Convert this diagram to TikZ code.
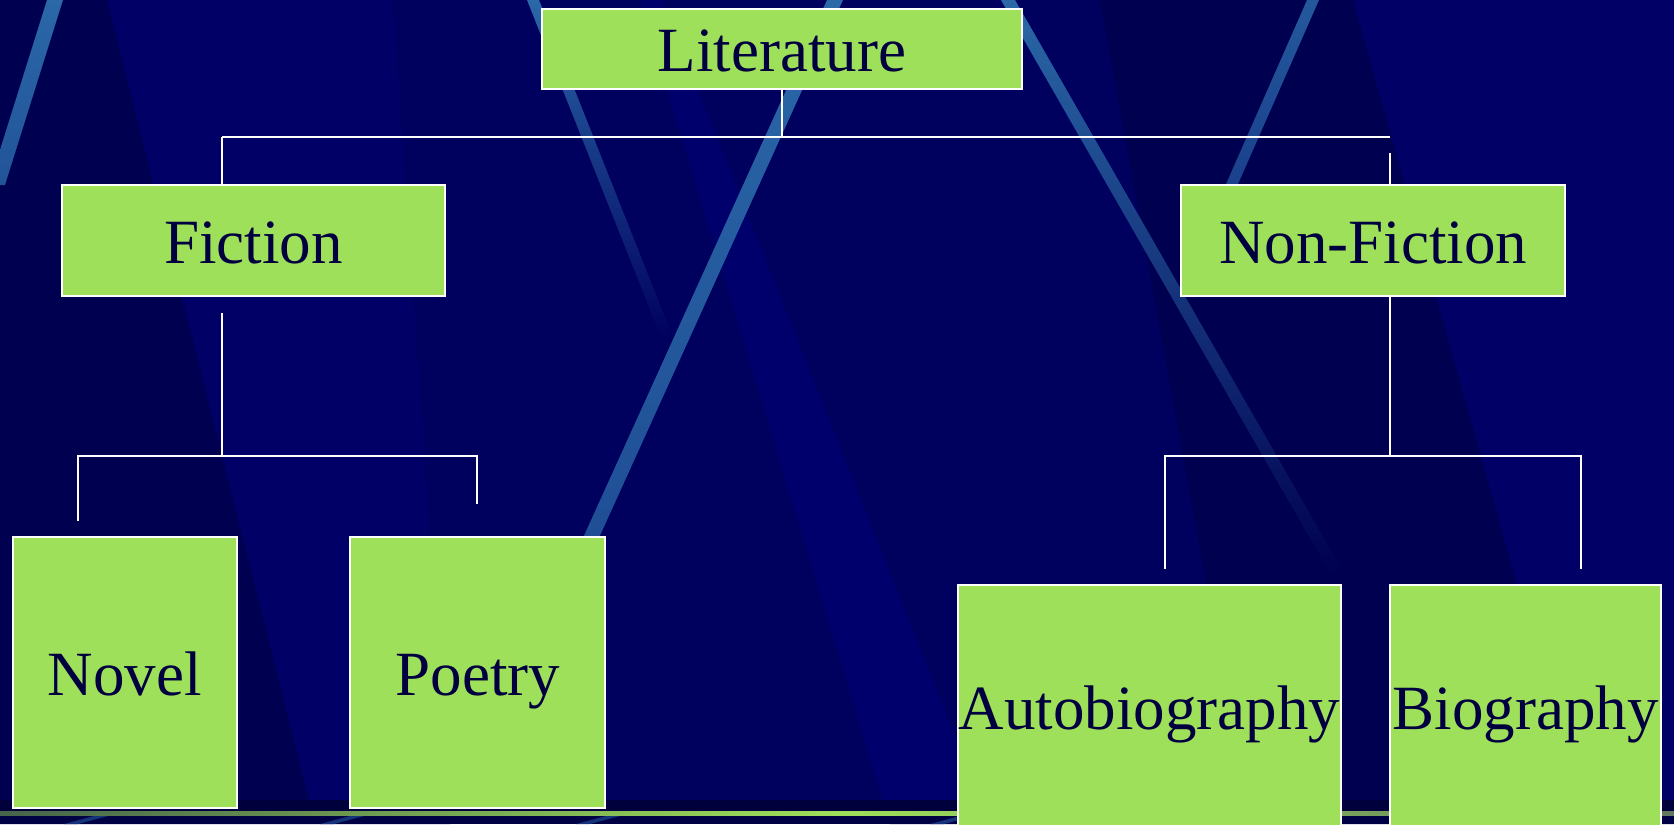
\documentclass[tikz,border=0pt]{standalone}
\usepackage{fontspec}
\setmainfont{Liberation Serif}
\definecolor{navy}{RGB}{0,0,94}
\definecolor{navydark}{RGB}{0,0,80}
\definecolor{navylight}{RGB}{0,0,102}
\definecolor{navyband}{RGB}{0,0,108}
\definecolor{streak}{RGB}{42,104,168}
\definecolor{boxgreen}{RGB}{159,224,90}
\definecolor{inktext}{RGB}{0,0,64}
\definecolor{linedark}{RGB}{70,100,75}
\definecolor{linegray}{RGB}{95,120,95}
\begin{document}
\begin{tikzpicture}[x=0.5pt,y=-0.5pt,
    cat/.style={draw=white,line width=1pt,fill=boxgreen,text=inktext,inner sep=0pt,
      font=\fontsize{31.5}{36}\selectfont,text height=23pt,text depth=0pt},
    link/.style={draw=white,line width=0.9pt}]
  % backdrop
  \fill[navy](0,0)rectangle(1674,824);
  \useasboundingbox(0,0)rectangle(1674,824);
  \fill[navydark](0,0)--(107,0)--(315,824)--(0,824)--cycle;
  \fill[navylight](107,0)--(393,0)--(450,824)--(315,824)--cycle;
  \fill[navyband](640,0)--(662,0)--(990,824)--(890,824)--cycle;
  \fill[navydark](1100,0)--(1353,0)--(1584,824)--(1250,824)--cycle;
  \fill[navylight](1353,0)--(1674,0)--(1674,824)--(1584,824)--cycle;
  % streaks
  \shade[top color=streak,bottom color=streak!80!navy](47,0)--(63,0)--(5,185)--(-11,185)--cycle;
  \shade[top color=streak,bottom color=navy](527,0)--(539,0)--(674,340)--(662,340)--cycle;
  \shade[top color=streak,bottom color=streak!75!navy](827,0)--(843,0)--(598,540)--(582,540)--cycle;
  \shade[top color=streak,bottom color=navydark](1001,0)--(1015,0)--(1345,575)--(1331,575)--cycle;
  \shade[top color=streak!85!navy,bottom color=streak!60!navy](1307,0)--(1319,0)--(1231,200)--(1219,200)--cycle;
  % bottom strip
  \fill[navydark!75!black](0,800)rectangle(1674,811);
  \shade[left color=linedark,right color=linegray,middle color=boxgreen](0,811)rectangle(1674,816);
  \fill[navydark!85!black](0,816)rectangle(1674,824);
  \foreach \x in {64,320,576,930}
    \fill[streak!50!navydark](\x,824)--(\x+14,824)--(\x+44,816)--(\x+30,816)--cycle;
  % boxes
  \node[cat,minimum width=239.7pt,minimum height=40pt](lit)at(782,48.6){Literature};
  \node[cat,minimum width=191.7pt,minimum height=55.5pt](fic)at(253.5,240.2){Fiction};
  \node[cat,minimum width=192.2pt,minimum height=55.5pt](nonfic)at(1373,240.2){Non-Fiction};
  \node[cat,minimum width=112.1pt,minimum height=135.6pt](novel)at(124.9,672.6){Novel};
  \node[cat,minimum width=127.6pt,minimum height=135.6pt](poetry)at(477.8,672.6){Poetry};
  \node[cat,minimum width=191.7pt,minimum height=121.5pt](auto)at(1149.3,706.5){Autobiography};
  \node[cat,minimum width=135.6pt,minimum height=121.5pt](bio)at(1525.6,706.5){Biography};
  % connectors
  \coordinate(barL)at(222,136.7);
  \coordinate(barR)at(1390,136.7);
  \coordinate(nfTop)at(1390,152.7);
  \coordinate(fStem)at(222,312.8);
  \coordinate(fBar)at(222,455.9);
  \coordinate(fL)at(77.9,455.9);
  \coordinate(fR)at(477.2,455.9);
  \coordinate(nBar)at(1390,455.9);
  \coordinate(nL)at(1164.8,455.9);
  \coordinate(nR)at(1581.1,455.9);
  \draw[link](lit.south)--(lit.south|-barL);
  \draw[link](barL)--(barR);
  \draw[link](barL)--(barL|-fic.north);
  \draw[link](nfTop)--(nfTop|-nonfic.north);
  \draw[link](fStem)--(fBar);
  \draw[link](fL|-0,521)--(fL)--(fR)--(fR|-0,503.9);
  \draw[link](barR|-nonfic.south)--(nBar);
  \draw[link](nL|-0,569)--(nL)--(nR)--(nR|-0,569);
\end{tikzpicture}
\end{document}
